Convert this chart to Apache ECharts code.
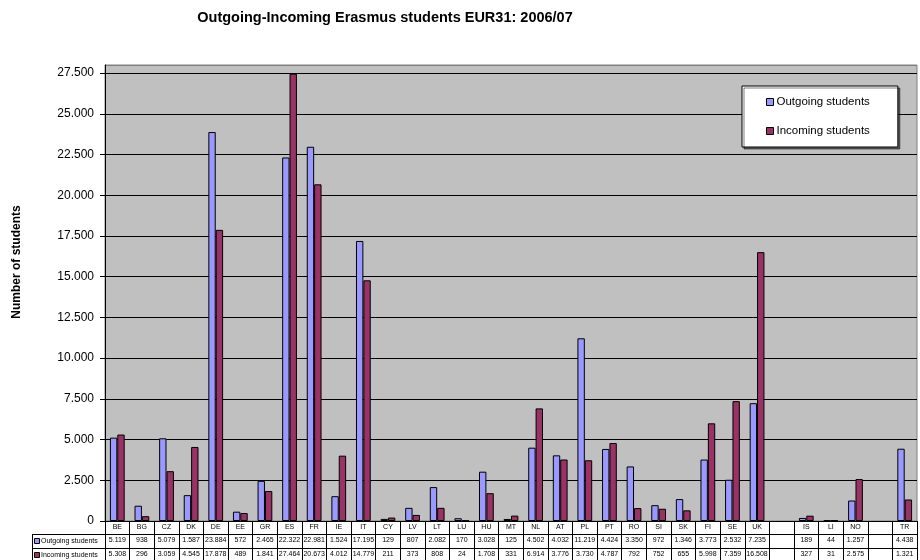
<!DOCTYPE html>
<html>
<head>
<meta charset="utf-8">
<script src="https://cdn.jsdelivr.net/npm/echarts@6/dist/echarts.min.js"></script>
<style>html,body{margin:0;padding:0;background:#fff}#c{width:920px;height:560px}</style>
</head>
<body>
<div id="c"></div>
<script>
var categories = ['BE','BG','CZ','DK','DE','EE','GR','ES','FR','IE','IT','CY','LV','LT','LU','HU','MT','NL','AT','PL','PT','RO','SI','SK','FI','SE','UK','','IS','LI','NO','','TR'];
var outgoing = [5119,938,5079,1587,23884,572,2465,22322,22981,1524,17195,129,807,2082,170,3028,125,4502,4032,11219,4424,3350,972,1346,3773,2532,7235,null,189,44,1257,null,4438];
var incoming = [5308,296,3059,4545,17878,489,1841,27464,20673,4012,14779,211,373,808,24,1708,331,6914,3776,3730,4787,792,752,655,5998,7359,16508,null,327,31,2575,null,1321];
var seriesNames = ['Outgoing students','Incoming students'];
var colors = ['#9999FF','#993366'];

function fmt(v){ if(v==null||v==='') return ''; return String(v).replace(/\B(?=(\d{3})+(?!\d))/g,'.'); }

var chart = echarts.init(document.getElementById('c'));
var FONT = 'Liberation Sans, Arial, sans-serif';
var gridColors = [];
for (var i=0;i<12;i++) gridColors.push('#000');
gridColors.push('#808080');

var tableLabel = {interval:0, fontSize:7, fontFamily:FONT, color:'#000', margin:3};

chart.setOption({
  animation:false,
  backgroundColor:'#fff',
  title:{text:'Outgoing-Incoming Erasmus students EUR31: 2006/07', left:380, textAlign:'center', top:5,
    textStyle:{fontFamily:FONT, fontSize:14.5, fontWeight:'bold', color:'#000'}},
  legend:{orient:'vertical', left:742, top:86, padding:[10,28,10,24], itemGap:17,
    itemWidth:7, itemHeight:7, icon:'rect', backgroundColor:'#fff', borderColor:'#000', borderWidth:1,
    shadowColor:'rgba(0,0,0,0.5)', shadowOffsetX:2, shadowOffsetY:2, shadowBlur:0,
    textStyle:{fontFamily:FONT, fontSize:11.5, color:'#000', padding:[0,0,0,-2]},
    itemStyle:{borderColor:'#000', borderWidth:1},
    data:seriesNames},
  grid:{left:105, right:3, top:65, bottom:39, show:true, backgroundColor:'#C0C0C0', borderColor:'#808080', borderWidth:1},
  xAxis:[
    {type:'category', data:categories, position:'bottom',
      axisLine:{show:true, lineStyle:{color:'#000', width:1}},
      axisTick:{show:true, length:39, lineStyle:{color:'#000'}},
      axisLabel:tableLabel},
    {type:'category', data:categories, position:'bottom', offset:13,
      axisLine:{show:true, lineStyle:{color:'#000', width:1}},
      axisTick:{show:false},
      axisLabel:Object.assign({}, tableLabel, {formatter:function(v,i){return fmt(outgoing[i]);}})},
    {type:'category', data:categories, position:'bottom', offset:27,
      axisLine:{show:true, lineStyle:{color:'#000', width:1}},
      axisTick:{show:false},
      axisLabel:Object.assign({}, tableLabel, {formatter:function(v,i){return fmt(incoming[i]);}})}
  ],
  yAxis:{type:'value', min:0, max:28000, interval:2500,
    axisLine:{show:true, lineStyle:{color:'#000'}},
    axisTick:{show:true, length:5, lineStyle:{color:'#000'}},
    axisLabel:{showMaxLabel:false, fontFamily:FONT, fontSize:12, color:'#000', margin:11, formatter:function(v){return fmt(v);}},
    splitLine:{show:true, lineStyle:{color:gridColors, width:1}}
  },
  series:[
    {name:seriesNames[0], type:'bar', data:outgoing, xAxisIndex:0, barGap:'0%', barCategoryGap:'40%',
      itemStyle:{color:colors[0], borderColor:'#000', borderWidth:1}},
    {name:seriesNames[1], type:'bar', data:incoming, xAxisIndex:0, barGap:'0%', barCategoryGap:'40%',
      itemStyle:{color:colors[1], borderColor:'#000', borderWidth:1}}
  ],
  graphic:[
    {type:'text', x:17, y:262, rotation:Math.PI/2, style:{text:'Number of students', fontFamily:FONT, fontSize:12, fontWeight:'bold', fill:'#000', textAlign:'center', textVerticalAlign:'middle'}},
    {type:'line', shape:{x1:32, y1:534.5, x2:105, y2:534.5}, style:{stroke:'#000', lineWidth:1}},
    {type:'line', shape:{x1:32, y1:548.5, x2:105, y2:548.5}, style:{stroke:'#000', lineWidth:1}},
    {type:'line', shape:{x1:32.5, y1:534, x2:32.5, y2:560}, style:{stroke:'#000', lineWidth:1}},
    {type:'rect', shape:{x:34.5, y:538.5, width:5, height:5}, style:{fill:colors[0], stroke:'#000', lineWidth:1}},
    {type:'rect', shape:{x:34.5, y:552.5, width:5, height:5}, style:{fill:colors[1], stroke:'#000', lineWidth:1}},
    {type:'text', x:41, y:541.5, style:{text:seriesNames[0], fontFamily:FONT, fontSize:7, fill:'#000', textVerticalAlign:'middle'}},
    {type:'text', x:41, y:555.5, style:{text:seriesNames[1], fontFamily:FONT, fontSize:7, fill:'#000', textVerticalAlign:'middle'}}
  ]
});
</script>
</body>
</html>
